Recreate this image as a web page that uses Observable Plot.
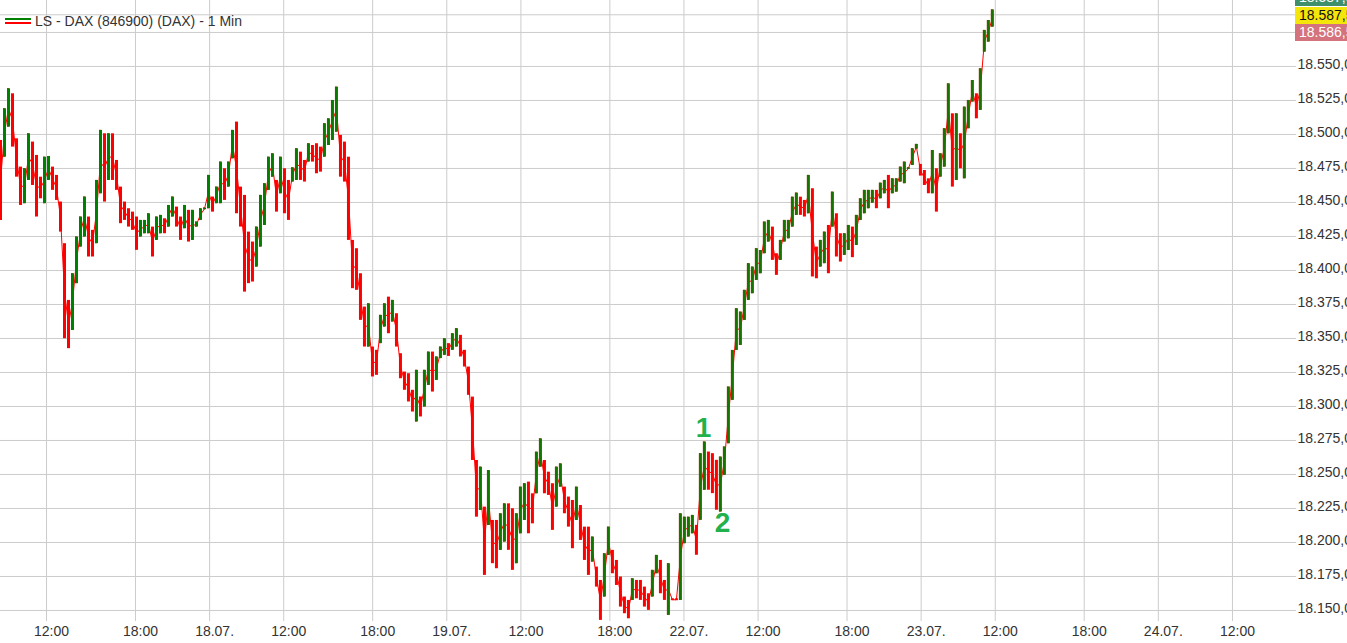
<!DOCTYPE html>
<html>
<head>
<meta charset="utf-8">
<script src="https://cdn.jsdelivr.net/npm/d3@7"></script>
<script src="https://cdn.jsdelivr.net/npm/@observablehq/plot@0.6"></script>
<style>
  html, body { margin: 0; padding: 0; background: #fff; overflow: hidden; }
  #wrap { position: relative; width: 1347px; height: 643px; overflow: hidden;
          font-family: "Liberation Sans", Arial, sans-serif; }
  #legend { position: absolute; left: 5px; top: 13px; font-size: 14px; color: #333;
            display: flex; align-items: center; }
  #legend .icon { width: 26px; height: 7px; margin-right: 4px; position: relative; }
  #legend .icon div { position: absolute; left: 0; width: 26px; height: 2px; }
  .tag { position: absolute; left: 1295px; width: 60px; height: 17px; font-size: 14px;
         line-height: 17px; padding-left: 4px; box-sizing: border-box; }
</style>
</head>
<body>
<div id="wrap">
  <div id="vis"></div>
  <div id="legend"><div class="icon"><div style="top:0;background:#008000"></div><div style="top:4px;background:#ff0000"></div></div><span>LS - DAX (846900) (DAX) - 1 Min</span></div>
  <div class="tag" style="top:-11px;background:#3f8f6d;color:#fff">18.587,5</div>
  <div class="tag" style="top:7px;background:#f4e60a;color:#111">18.587,5</div>
  <div class="tag" style="top:24px;background:#d4737d;color:#fff">18.586,5</div>
</div>
<script>
// 1-Min-Chart, zusammengefasst in Blöcke von ca. 16 Minuten Handelszeit (hoch / tief)
const hi = [
  18495.6, 18518.9, 18533.6, 18529.9, 18496.8, 18476.0, 18474.8, 18500.5, 18494.4, 18484.6,
  18468.6, 18483.3, 18483.8, 18476.0, 18469.9, 18450.3, 18419.7, 18378.0, 18397.6, 18424.6,
  18439.3, 18454.0, 18439.3, 18429.5, 18466.2, 18503.0, 18500.5, 18500.5, 18500.5, 18480.9,
  18461.3, 18450.3, 18445.4, 18442.9, 18439.3, 18436.8, 18436.8, 18441.7, 18431.9, 18439.3,
  18440.5, 18438.0, 18447.8, 18454.0, 18446.6, 18439.3, 18447.8, 18444.2, 18444.2, 18435.6,
  18445.4, 18445.9, 18469.9, 18454.0, 18461.3, 18479.7, 18474.8, 18479.7, 18503.0, 18509.1,
  18461.3, 18455.2, 18428.2, 18420.9, 18431.9, 18455.2, 18463.8, 18483.3, 18485.8, 18466.2,
  18483.3, 18474.8, 18466.2, 18475.5, 18489.5, 18487.0, 18480.9, 18493.2, 18491.9, 18493.2,
  18490.7, 18507.9, 18511.5, 18525.0, 18534.8, 18499.3, 18494.4, 18483.3, 18422.1, 18416.0,
  18397.6, 18373.1, 18375.5, 18343.7, 18341.3, 18367.0, 18375.5, 18380.4, 18378.0, 18368.2,
  18338.8, 18325.3, 18324.1, 18311.9, 18326.6, 18307.0, 18326.6, 18340.0, 18340.0, 18336.4,
  18343.7, 18349.8, 18346.2, 18353.5, 18357.2, 18352.3, 18341.3, 18329.0, 18306.9, 18260.3,
  18255.4, 18226.0, 18252.9, 18216.2, 18216.2, 18221.1, 18228.4, 18228.4, 18224.8, 18221.1,
  18240.7, 18243.2, 18244.4, 18235.8, 18266.4, 18276.2, 18260.3, 18251.7, 18243.2, 18255.4,
  18257.8, 18240.7, 18233.4, 18230.9, 18240.7, 18227.2, 18211.3, 18211.3, 18204.0, 18181.9,
  18172.1, 18191.7, 18211.3, 18194.2, 18186.8, 18174.6, 18159.9, 18157.4, 18173.3, 18172.1,
  18172.1, 18167.2, 18162.3, 18179.5, 18190.5, 18186.8, 18172.1, 18184.4, 18158.6, 18158.6,
  18221.1, 18218.6, 18218.6, 18219.9, 18212.6, 18265.3, 18273.9, 18266.5, 18265.3, 18260.4,
  18262.8, 18270.2, 18314.3, 18341.2, 18371.9, 18369.4, 18385.4, 18405.0, 18402.5, 18416.0,
  18414.7, 18435.6, 18436.8, 18431.9, 18412.3, 18422.1, 18436.8, 18436.8, 18453.9, 18456.9,
  18453.9, 18451.5, 18469.9, 18460.1, 18417.2, 18422.1, 18428.2, 18433.1, 18457.6, 18441.7,
  18427.0, 18427.0, 18433.1, 18431.9, 18440.5, 18452.7, 18458.9, 18458.9, 18458.9, 18458.9,
  18464.2, 18466.2, 18469.9, 18467.4, 18467.4, 18476.0, 18479.7, 18475.5, 18489.5, 18492.7,
  18478.0, 18473.5, 18467.4, 18488.2, 18474.8, 18485.8, 18504.2, 18537.2, 18515.2, 18515.2,
  18500.5, 18520.1, 18525.0, 18539.7, 18529.9, 18548.3, 18576.5, 18583.8, 18591.6
];
const lo = [
  18436.8, 18483.3, 18505.4, 18490.7, 18468.6, 18447.8, 18449.1, 18466.2, 18462.5, 18439.3,
  18452.7, 18449.1, 18466.2, 18458.9, 18451.5, 18428.2, 18349.8, 18342.5, 18355.9, 18390.3,
  18417.2, 18424.6, 18409.9, 18409.9, 18419.7, 18456.4, 18450.3, 18466.2, 18466.2, 18458.9,
  18434.4, 18436.8, 18431.9, 18429.5, 18414.8, 18424.6, 18427.0, 18427.0, 18409.9, 18422.1,
  18427.0, 18427.0, 18431.9, 18439.3, 18431.9, 18422.1, 18430.7, 18420.9, 18422.1, 18431.9,
  18436.8, 18444.6, 18445.4, 18442.9, 18449.1, 18449.1, 18451.5, 18461.3, 18482.1, 18441.7,
  18431.9, 18384.1, 18390.3, 18391.5, 18402.5, 18417.2, 18433.1, 18458.9, 18468.6, 18442.9,
  18456.4, 18441.7, 18436.8, 18465.0, 18466.2, 18466.2, 18465.0, 18479.7, 18479.7, 18471.1,
  18472.3, 18483.3, 18491.9, 18495.6, 18501.7, 18468.6, 18465.0, 18422.1, 18386.6, 18385.4,
  18363.3, 18343.7, 18343.7, 18321.7, 18322.9, 18346.2, 18358.4, 18353.5, 18362.1, 18343.7,
  18320.4, 18311.9, 18303.3, 18295.9, 18288.6, 18292.3, 18299.6, 18315.5, 18310.6, 18319.2,
  18335.2, 18337.6, 18336.8, 18341.3, 18343.7, 18336.4, 18329.0, 18308.2, 18260.3, 18218.6,
  18223.5, 18175.8, 18212.5, 18184.4, 18180.7, 18194.2, 18200.3, 18194.2, 18179.5, 18184.4,
  18206.4, 18216.2, 18206.4, 18213.7, 18235.8, 18255.4, 18235.8, 18234.6, 18208.9, 18226.0,
  18240.7, 18221.1, 18211.3, 18195.4, 18216.2, 18201.5, 18186.8, 18175.8, 18185.6, 18167.2,
  18142.7, 18159.9, 18190.5, 18177.0, 18168.4, 18152.5, 18147.6, 18143.9, 18157.4, 18158.6,
  18157.4, 18152.5, 18150.1, 18159.9, 18177.0, 18162.3, 18157.4, 18146.4, 18157.2, 18157.2,
  18157.4, 18199.1, 18204.0, 18206.4, 18190.6, 18216.3, 18238.4, 18238.4, 18235.9, 18223.7,
  18222.4, 18249.4, 18272.6, 18304.5, 18341.2, 18344.9, 18363.3, 18378.0, 18382.9, 18392.7,
  18397.6, 18412.3, 18420.9, 18407.4, 18396.4, 18407.4, 18420.9, 18423.3, 18431.9, 18440.5,
  18440.5, 18439.3, 18441.7, 18395.2, 18393.9, 18402.5, 18405.0, 18397.6, 18431.9, 18409.9,
  18406.2, 18411.1, 18414.7, 18409.4, 18418.4, 18436.8, 18441.7, 18445.4, 18449.5, 18445.4,
  18452.7, 18456.4, 18445.4, 18456.4, 18457.6, 18465.0, 18463.8, 18474.3, 18477.2, 18489.2,
  18469.4, 18462.5, 18456.4, 18456.4, 18442.9, 18468.6, 18476.0, 18500.5, 18461.3, 18466.2,
  18474.8, 18467.4, 18504.2, 18523.8, 18511.5, 18517.7, 18560.5, 18567.9, 18578.9
];

// Zeitachse in Handelsstunden ab 17.07. 07:00 (Nacht / Wochenende ausgeblendet)
const startHour = 1.895;   // 17.07. ca. 08:54
const blockHours = 0.2698; // Länge eines Blocks
const tickHours = [5, 11, 16, 21, 27, 32, 37, 43, 48, 53, 59, 64, 69, 75, 80, 85];
const tickLabels = ["12:00", "18:00", "18.07.", "12:00", "18:00", "19.07.", "12:00", "18:00",
                    "22.07.", "12:00", "18:00", "23.07.", "12:00", "18:00", "24.07.", "12:00"];
const priceTicks = d3.range(18150, 18576, 25);
const lastPrice = 18588;

const notes = [
  {label: "1", t: 49.32, price: 18284},
  {label: "2", t: 50.6, price: 18214}
];

const bars = hi.map((h, i) => ({t: startHour + i * blockHours, hi: h, lo: lo[i], mid: (h + lo[i]) / 2}));
bars.forEach((d, i) => d.up = i > 0 && d.mid > bars[i - 1].mid);

const de = d3.formatLocale({decimal: ",", thousands: ".", grouping: [3], currency: ["", " €"]});
const fmtPrice = de.format(",.1f");
const labelAt = new Map(tickHours.map((h, i) => [h, tickLabels[i]]));

const chart = Plot.plot({
  width: 1347,
  height: 643,
  marginLeft: 0,
  marginRight: 51,
  marginTop: 0,
  marginBottom: 22,
  style: {fontFamily: "Liberation Sans, Arial, sans-serif", fontSize: "14px", color: "#333", background: "#fff", overflow: "hidden"},
  x: {type: "linear", domain: [1.895, 89.32], axis: null},
  y: {domain: [18141.9, 18598.5], axis: null},
  marks: [
    Plot.gridX(tickHours, {stroke: "#cccccc", strokeOpacity: 1}),
    Plot.gridY(priceTicks, {stroke: "#cccccc", strokeOpacity: 1}),
    Plot.ruleY([lastPrice], {stroke: "#cccccc"}),
    Plot.axisX(tickHours, {label: null, tickSize: 0, tickPadding: 5, dx: 5, tickFormat: d => labelAt.get(d), fill: "#333", fontSize: 14}),
    Plot.axisY(priceTicks, {label: null, anchor: "right", tickSize: 0, tickPadding: 1, dy: -2, tickFormat: fmtPrice, fill: "#333", fontSize: 14}),
    Plot.line(bars, {x: "t", y: "mid", stroke: "#ff0000", strokeWidth: 1}),
    // alle Blöcke rot, steigende zusätzlich mit grünem Strich
    Plot.ruleX(bars, {x: "t", y1: "lo", y2: "hi", stroke: "#ff0000", strokeWidth: 3}),
    Plot.ruleX(bars.filter(d => d.up), {x: "t", y1: "lo", y2: "hi", stroke: "#008000", strokeWidth: 2, dx: -0.5}),
    Plot.text(notes, {x: "t", y: "price", text: "label", fill: "#23b14d", fontSize: 28, fontWeight: "bold"})
  ]
});

d3.select("#vis").append(() => chart);
</script>
</body>
</html>
